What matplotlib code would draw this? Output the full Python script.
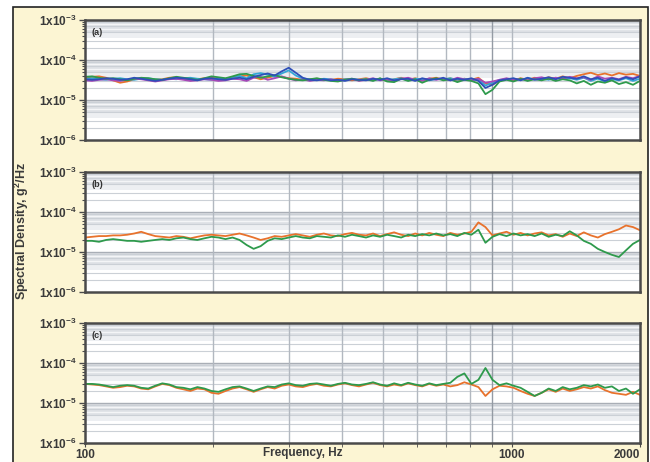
import numpy as np
import matplotlib
matplotlib.use("Agg")
import matplotlib.pyplot as plt
from matplotlib.patches import Rectangle

plt.rcParams['font.family'] = ['Liberation Sans', 'DejaVu Sans']
plt.rcParams['mathtext.default'] = 'regular'

# PSD values in units of 1e-5 g^2/Hz, 80 log-spaced points from 100 to 2000 Hz
n_pts = 80
freq = np.geomspace(100, 2000, n_pts)

a_orange = [3.6, 3.8, 3.9, 3.6, 3.1, 2.7, 2.9, 3.3, 3.5, 3.4,
            3.2, 3.3, 3.6, 3.7, 3.4, 3.1, 3.3, 3.5, 3.6, 3.4,
            3.3, 3.6, 3.9, 4.1, 3.7, 3.3, 3.6, 4.0, 3.8, 3.5,
            3.4, 3.2, 3.3, 3.4, 3.3, 3.2, 3.4, 3.3, 3.1, 3.3,
            3.5, 3.2, 3.4, 3.0, 3.3, 3.6, 3.2, 3.5, 3.1, 3.4,
            3.6, 3.2, 3.5, 3.0, 3.4, 3.2, 3.6, 2.6, 2.4, 3.1,
            3.4, 3.1, 3.5, 3.2, 3.6, 3.3, 3.7, 3.4, 3.9, 3.5,
            4.0, 4.4, 4.8, 4.2, 4.6, 4.1, 4.7, 4.3, 4.5, 4.0]
a_green = [3.8, 3.9, 3.6, 3.4, 3.5, 3.3, 3.1, 3.4, 3.6, 3.5,
           3.3, 3.2, 3.5, 3.8, 3.6, 3.4, 3.2, 3.5, 3.9, 3.7,
           3.5, 3.9, 4.4, 4.5, 4.0, 3.6, 3.9, 4.2, 3.7, 3.4,
           3.2, 3.1, 3.3, 3.5, 3.2, 3.0, 2.9, 3.2, 3.4, 3.1,
           3.3, 3.0, 3.5, 2.9, 2.8, 3.4, 3.0, 3.3, 2.7, 3.2,
           3.5, 3.1, 3.3, 2.8, 3.2, 3.0, 2.6, 1.4, 1.8, 2.9,
           3.2, 2.9, 3.4, 3.0, 3.3, 3.1, 3.4, 3.0, 3.3, 3.1,
           2.6, 3.0, 2.4, 2.9, 2.7, 3.1, 2.5, 2.8, 2.4, 3.0]
a_blue = [3.3, 3.2, 3.3, 3.5, 3.4, 3.2, 3.3, 3.6, 3.4, 3.2,
          3.0, 3.2, 3.4, 3.6, 3.5, 3.3, 3.1, 3.4, 3.5, 3.3,
          3.2, 3.4, 3.6, 3.3, 3.8, 4.2, 4.6, 4.1, 5.2, 6.4,
          4.8, 3.6, 3.2, 3.1, 3.3, 3.1, 3.2, 3.0, 3.3, 3.2,
          3.1, 3.4, 3.2, 3.5, 3.1, 3.3, 3.4, 3.0, 3.5, 3.2,
          3.3, 3.6, 3.1, 3.4, 3.2, 3.5, 3.0, 2.0, 2.4, 3.1,
          3.3, 3.5, 3.1, 3.6, 3.2, 3.4, 3.7, 3.3, 3.8, 3.6,
          3.4, 3.9, 3.3, 3.6, 3.0, 3.5, 3.2, 3.7, 3.3, 3.9]
a_purple = [3.1, 3.0, 3.2, 3.3, 3.1, 3.0, 3.2, 3.4, 3.3, 3.1,
            2.9, 3.1, 3.3, 3.4, 3.2, 3.0, 3.1, 3.3, 3.2, 3.0,
            3.1, 3.4, 3.3, 3.0, 3.6, 3.8, 3.2, 3.5, 3.9, 3.4,
            3.1, 3.3, 3.0, 3.2, 3.1, 3.3, 3.0, 3.2, 3.4, 3.0,
            3.2, 3.5, 3.1, 3.3, 3.0, 3.4, 3.6, 3.2, 3.0, 3.5,
            3.2, 3.4, 3.1, 3.6, 3.3, 3.1, 3.4, 2.7, 2.9, 3.2,
            3.5, 3.2, 3.4, 3.1, 3.5, 3.7, 3.3, 3.6, 3.4, 3.8,
            3.5, 3.7, 3.2, 3.9, 3.4, 3.6, 3.3, 3.8, 3.5, 4.0]
a_cyan = [3.4, 3.5, 3.3, 3.2, 3.4, 3.5, 3.3, 3.2, 3.4, 3.5,
          3.3, 3.2, 3.4, 3.3, 3.5, 3.6, 3.4, 3.3, 3.2, 3.5,
          3.4, 3.7, 4.0, 3.5, 4.4, 4.7, 4.3, 3.8, 4.6, 5.5,
          4.1, 3.4, 3.3, 3.2, 3.4, 3.3, 3.1, 3.3, 3.4, 3.2,
          3.3, 3.1, 3.4, 3.2, 3.3, 3.5, 3.1, 3.4, 3.3, 3.1,
          3.4, 3.3, 3.5, 3.2, 3.4, 3.1, 3.3, 2.3, 2.7, 3.2,
          3.3, 3.4, 3.2, 3.5, 3.3, 3.4, 3.2, 3.6, 3.4, 3.5,
          3.2, 3.6, 3.0, 3.4, 2.9, 3.3, 3.1, 3.5, 3.0, 3.4]

b_orange = [2.3, 2.4, 2.5, 2.5, 2.6, 2.6, 2.7, 2.9, 3.2, 2.8,
            2.5, 2.4, 2.3, 2.5, 2.4, 2.2, 2.4, 2.6, 2.7, 2.6,
            2.5, 2.7, 2.9, 2.6, 2.3, 2.0, 2.2, 2.5, 2.4, 2.6,
            2.8, 2.6, 2.4, 2.7, 2.9, 2.6, 2.5, 2.8, 3.0, 2.7,
            2.6, 2.9, 2.5, 2.8, 3.1, 2.7, 2.5, 2.9, 2.6, 3.0,
            2.7, 2.5, 3.0, 2.7, 2.9, 3.2, 5.5, 4.2, 2.6, 2.9,
            3.2, 2.7, 3.0, 2.6, 2.9, 3.1, 2.6, 2.8, 2.4, 2.9,
            2.5, 3.1, 2.6, 2.3, 2.8, 3.2, 3.7, 4.6, 4.2, 3.5]
b_green = [1.9, 1.9, 1.8, 2.0, 2.1, 2.0, 1.9, 1.9, 1.8, 1.9,
           2.0, 2.1, 2.0, 2.2, 2.3, 2.1, 2.0, 2.2, 2.4, 2.3,
           2.1, 2.3, 2.0, 1.5, 1.2, 1.4, 1.9, 2.2, 2.1, 2.3,
           2.5, 2.3, 2.2, 2.5, 2.4, 2.3, 2.6, 2.4, 2.7, 2.5,
           2.3, 2.6, 2.4, 2.7, 2.5, 2.3, 2.7, 2.5, 2.8, 2.6,
           2.9, 2.6, 2.8, 2.5, 3.0, 2.7, 3.6, 1.7, 2.4, 2.8,
           2.5, 2.9, 2.6, 2.8, 2.5, 2.9, 2.4, 2.7, 2.5, 3.3,
           2.6, 1.9, 1.6, 1.2, 1.0, 0.85, 0.75, 1.1, 1.6, 2.0]

c_orange = [3.0, 2.9, 2.8, 2.6, 2.4, 2.5, 2.7, 2.6, 2.3, 2.2,
            2.6, 3.0, 2.8, 2.4, 2.2, 2.0, 2.3, 2.2, 1.8, 1.7,
            2.0, 2.3, 2.5, 2.2, 1.9, 2.2, 2.5, 2.3, 2.7, 2.9,
            2.6, 2.5, 2.8, 3.0, 2.7, 2.6, 2.9, 3.1, 2.8, 2.6,
            2.9, 3.2, 2.8, 2.6, 2.9, 2.7, 3.1, 2.8, 2.6, 3.0,
            2.7, 2.9, 2.6, 2.8, 3.3, 2.9, 2.5, 1.5, 2.2, 2.7,
            2.6, 2.4, 2.0, 1.7, 1.5, 1.8, 2.2, 1.9, 2.3, 2.0,
            2.2, 2.5, 2.3, 2.6, 2.1, 1.8, 1.7, 1.6, 1.9, 1.6]
c_green = [3.0, 3.0, 2.9, 2.7, 2.5, 2.7, 2.8, 2.7, 2.4, 2.3,
           2.7, 3.1, 2.9, 2.5, 2.4, 2.2, 2.5, 2.3, 2.0, 1.9,
           2.2, 2.5, 2.6, 2.3, 2.0, 2.3, 2.6, 2.5, 2.9, 3.1,
           2.8, 2.7, 3.0, 3.1, 2.9, 2.7, 3.0, 3.2, 2.9, 2.8,
           3.0, 3.3, 2.9, 2.7, 3.1, 2.8, 3.2, 2.9, 2.7, 3.1,
           2.8, 3.0, 3.2, 4.5, 5.5, 3.0, 3.8, 7.5, 3.8, 2.8,
           3.1, 2.7, 2.4, 1.9, 1.5, 1.8, 2.3, 2.0, 2.5, 2.2,
           2.4, 2.8, 2.6, 2.9, 2.4, 2.6, 2.0, 2.3, 1.7, 2.2]

ORANGE = '#E8722C'
GREEN = '#2E9A4C'
BLUE = '#2E4FB8'
PURPLE = '#A848B8'
CYAN = '#33A6D6'

panels = [
    ('(a)', [(a_orange, ORANGE), (a_cyan, CYAN), (a_purple, PURPLE),
             (a_green, GREEN), (a_blue, BLUE)]),
    ('(b)', [(b_orange, ORANGE), (b_green, GREEN)]),
    ('(c)', [(c_orange, ORANGE), (c_green, GREEN)]),
]

W, H = 650, 462
fig = plt.figure(figsize=(W / 100, H / 100), dpi=100, facecolor='white')

# cream frame behind the panels
fig.patches.append(Rectangle((13 / W, -0.05), (648 - 13) / W, (H - 7) / H + 0.05,
                             transform=fig.transFigure, facecolor='#FCF5D3',
                             edgecolor='#222222', linewidth=1.2, zorder=-5))

ax_left, ax_w = 85 / W, 555 / W
tops = [20, 172, 323]
ax_h = 120

yticks = [1e-6, 1e-5, 1e-4, 1e-3]
ylabels = [r'1x10$^{-6}$', r'1x10$^{-5}$', r'1x10$^{-4}$', r'1x10$^{-3}$']
vgrid = [200, 300, 400, 500, 600, 700, 800, 900, 1000]

for k, (tag, series) in enumerate(panels):
    top = tops[k]
    ax = fig.add_axes([ax_left, (H - top - ax_h) / H, ax_w, ax_h / H])
    ax.set_xscale('log')
    ax.set_yscale('log')
    ax.set_xlim(100, 2000)
    ax.set_ylim(1e-6, 1e-3)
    ax.set_facecolor('white')

    # shaded bands within each decade
    for d in (-6, -5, -4):
        base = 10.0 ** d
        ax.axhspan(5 * base, 10 * base, color='#DDE0E5', lw=0, zorder=0)
        ax.axhspan(3.5 * base, 5 * base, color='#EDEFF2', lw=0, zorder=0)
        for m in (2, 3, 5, 7, 9):
            ax.axhline(m * base, color='#CBD0D6', lw=0.8, zorder=0.5)
        for m in (6, 8):
            ax.axhline(m * base, color='#F4F5F7', lw=1.0, zorder=0.5)
    for d in (-5, -4):
        ax.axhline(10.0 ** d, color='#A9AEB6', lw=1.0, zorder=0.5)
    for f in vgrid:
        ax.axvline(f, color='#949BA4' if f == 900 else '#B2B8C0', lw=1.0, zorder=0.6)

    for vals, col in series:
        ax.plot(freq, np.array(vals) * 1e-5, color=col, lw=1.3, zorder=2)

    ax.text(0.012, 0.93, tag, transform=ax.transAxes, fontsize=6.5,
            fontweight='bold', color='#333333', va='top', ha='left')

    for sp in ax.spines.values():
        sp.set_color('#4A4A4A')
        sp.set_linewidth(1.8)

    ax.set_yticks(yticks)
    ax.set_yticklabels(ylabels, fontsize=8.5, fontweight='bold', color='#3A3A3A')
    ax.tick_params(axis='y', which='major', direction='out', length=4, width=1.0,
                   color='#4A4A4A', pad=2)
    ax.tick_params(axis='y', which='minor', direction='out', length=2, width=0.8,
                   color='#4A4A4A')

    ax.set_xticks([100, 1000, 2000])
    ax.set_xticks(vgrid, minor=True)
    ax.xaxis.set_minor_formatter(plt.NullFormatter())
    if k == 2:
        labels = ax.set_xticklabels(['100', '1000', '2000'], fontsize=8.5,
                                    fontweight='bold', color='#3A3A3A')
        labels[-1].set_horizontalalignment('right')
        ax.tick_params(axis='x', which='both', direction='out', length=3,
                       color='#4A4A4A', pad=1)
        ax.text(0.393, -0.035, 'Frequency, Hz', transform=ax.transAxes, fontsize=8.5,
                fontweight='bold', color='#3A3A3A', ha='center', va='top')
    else:
        ax.set_xticklabels([])
        ax.tick_params(axis='x', which='both', length=0)

fig.text(22 / W, 0.5, 'Spectral Density, g$^2$/Hz', rotation=90, fontsize=9,
         fontweight='bold', color='#3A3A3A', ha='center', va='center')

fig.savefig('out.png', dpi=100, facecolor='white')
